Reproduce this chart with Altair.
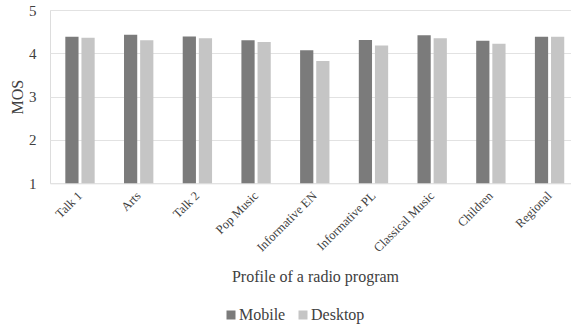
import altair as alt
import pandas as pd

# Mean opinion scores per radio-program profile, by listening device
programs = ["Talk 1", "Arts", "Talk 2", "Pop Music", "Informative EN",
            "Informative PL", "Classical Music", "Children", "Regional"]
mobile = [4.38, 4.43, 4.39, 4.30, 4.07, 4.31, 4.42, 4.29, 4.38]
desktop = [4.36, 4.30, 4.35, 4.26, 3.82, 4.18, 4.35, 4.22, 4.38]
devices = ["Mobile", "Desktop"]
device_colors = ["#7b7b7b", "#c5c5c5"]
y_ticks = [1, 2, 3, 4, 5]
y_floor = 1

rows = []
for name, m, d in zip(programs, mobile, desktop):
    rows.append({"Profile": name, "Device": "Mobile", "MOS": m})
    rows.append({"Profile": name, "Device": "Desktop", "MOS": d})
df = pd.DataFrame(rows)

FONT = "'Times New Roman', 'Liberation Serif', 'DejaVu Serif', serif"
TEXT = "#404040"

chart = (
    alt.Chart(df)
    .mark_bar()
    .encode(
        x=alt.X(
            "Profile:N",
            sort=programs,
            scale=alt.Scale(paddingInner=0.5, paddingOuter=0.188, align=0.694),
            axis=alt.Axis(
                title="Profile of a radio program",
                labelAngle=-45,
                labelAlign="right",
                labelBaseline="middle",
                labelPadding=10,
                labelFont=FONT,
                labelFontSize=12.5,
                labelColor=TEXT,
                ticks=False,
                domain=False,
                titleFont=FONT,
                titleFontSize=16,
                titleFontWeight="normal",
                titleColor=TEXT,
                titleX=265,
                titleY=98.5,
                titleBaseline="alphabetic",
                labelOverlap=False,
            ),
        ),
        xOffset=alt.XOffset(
            "Device:N",
            sort=devices,
            scale=alt.Scale(paddingInner=0.18, paddingOuter=0),
        ),
        y=alt.Y(
            "MOS:Q",
            scale=alt.Scale(domain=[1, 5], nice=False, zero=False),
            axis=alt.Axis(
                title="MOS",
                values=y_ticks,
                grid=True,
                gridColor="#e2e2e2",
                gridWidth=1,
                domain=False,
                ticks=False,
                labelPadding=14,
                labelFont=FONT,
                labelFontSize=15,
                labelColor=TEXT,
                titleFont=FONT,
                titleFontSize=16,
                titleFontWeight="normal",
                titleColor=TEXT,
                titleX=-28,
                titleY=86.7,
                titleBaseline="alphabetic",
                titleAngle=270,
            ),
        ),
        y2=alt.datum(y_floor),
        color=alt.Color(
            "Device:N",
            sort=devices,
            scale=alt.Scale(domain=devices, range=device_colors),
            legend=alt.Legend(
                title=None,
                orient="none",
                direction="horizontal",
                legendX=173,
                legendY=297,
                symbolType="square",
                symbolSize=81,
                symbolStrokeWidth=0,
                labelFont=FONT,
                labelFontSize=16,
                labelColor=TEXT,
                labelOffset=0,
                columnPadding=9,
                padding=0,
            ),
        ),
    )
    .properties(
        width=521,
        height=173.3,
        autosize=alt.AutoSizeParams(type="none"),
        padding={"left": 50, "top": 10, "right": 0, "bottom": 144.7},
    )
    .configure_view(stroke=None)
    .configure(background="white")
)

chart.save("out.html", embed_options={"renderer": "svg", "actions": False})
